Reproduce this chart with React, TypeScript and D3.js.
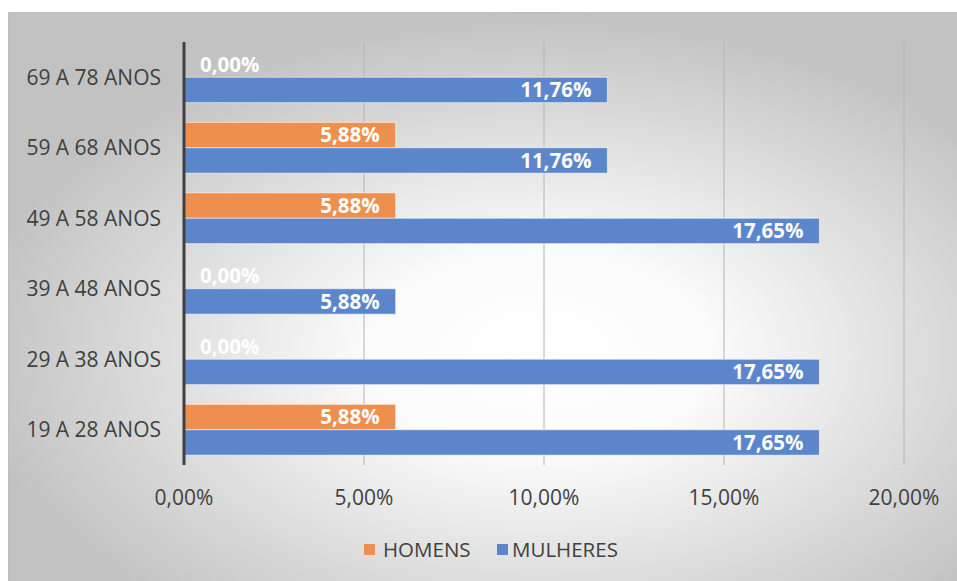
import React from "react";
import * as d3 from "d3";

const categories = ["69 A 78 ANOS", "59 A 68 ANOS", "49 A 58 ANOS", "39 A 48 ANOS", "29 A 38 ANOS", "19 A 28 ANOS"];
const homens = [0, 5.88, 5.88, 0, 0, 5.88];
const mulheres = [11.76, 11.76, 17.65, 5.88, 17.65, 17.65];
const series = ["HOMENS", "MULHERES"];
const xTicks = [0, 5, 10, 15, 20];

const W = 957;
const H = 581;
const FONT = "'Open Sans', 'Noto Sans', sans-serif";
const colors = ["#EF8F4E", "#5C86CC"];

const fmt = (v: number) => v.toFixed(2).replace(".", ",") + "%";

export default function App() {
  const x = d3.scaleLinear().domain([0, 20]).range([184, 904]);
  const y = d3.scaleBand<string>().domain(categories).range([42, 465]).paddingInner(0.28).paddingOuter(0.14);
  const sub = d3.scaleBand<string>().domain(series).range([0, y.bandwidth()]);
  const vals = [homens, mulheres];

  return (
    <svg width={W} height={H} style={{ position: "absolute", left: 0, top: 0 }} fontFamily={FONT}>
      <defs>
        <radialGradient id="bg" cx="56%" cy="60%" r="60%">
          <stop offset="0%" stopColor="#ffffff" />
          <stop offset="30%" stopColor="#fbfbfb" />
          <stop offset="100%" stopColor="#c2c2c2" />
        </radialGradient>
      </defs>
      <rect x={0} y={0} width={W} height={H} fill="#ffffff" />
      <rect x={8.5} y={12.5} width={W - 8} height={H - 12} fill="url(#bg)" stroke="#bdbdbd" strokeWidth={1} />
      {/* gridlines */}
      {xTicks.slice(1).map((t) => (
        <line key={t} x1={x(t)} x2={x(t)} y1={42} y2={465} stroke="#b4b4b4" strokeWidth={1} />
      ))}
      {/* bars */}
      {categories.map((c, i) =>
        series.map((s, j) => {
          const v = vals[j][i];
          const y0 = (y(c) as number) + (sub(s) as number);
          const bh = sub.bandwidth();
          return (
            <g key={c + s}>
              {v > 0 && (
                <rect x={x(0)} y={y0} width={x(v) - x(0)} height={bh} fill={colors[j]} stroke="#ffffff" strokeOpacity={0.55} strokeWidth={1} />
              )}
              <text
                x={v > 0 ? x(v) - 16 : x(0) + 16}
                y={y0 + bh / 2}
                dy="0.36em"
                textAnchor={v > 0 ? "end" : "start"}
                fill="#ffffff"
                fontWeight="bold"
                fontSize={20.5}
              >
                {fmt(v)}
              </text>
            </g>
          );
        })
      )}
      {/* axis line */}
      <line x1={x(0)} x2={x(0)} y1={42} y2={465} stroke="#404040" strokeWidth={3} />
      {/* category labels */}
      {categories.map((c) => (
        <text key={c} x={161} y={(y(c) as number) + y.bandwidth() / 2} dy="0.36em" textAnchor="end" fill="#404040" fontSize={21}>
          {c}
        </text>
      ))}
      {/* x tick labels */}
      {xTicks.map((t) => (
        <text key={t} x={x(t)} y={497} dy="0.36em" textAnchor="middle" fill="#404040" fontSize={21}>
          {fmt(t)}
        </text>
      ))}
      {/* legend */}
      <rect x={364} y={544} width={11} height={11} fill={colors[0]} />
      <text x={383} y={550} dy="0.36em" fill="#404040" fontSize={20.5}>{series[0]}</text>
      <rect x={497} y={544} width={11} height={11} fill={colors[1]} />
      <text x={512} y={550} dy="0.36em" fill="#404040" fontSize={20.5}>{series[1]}</text>
    </svg>
  );
}
